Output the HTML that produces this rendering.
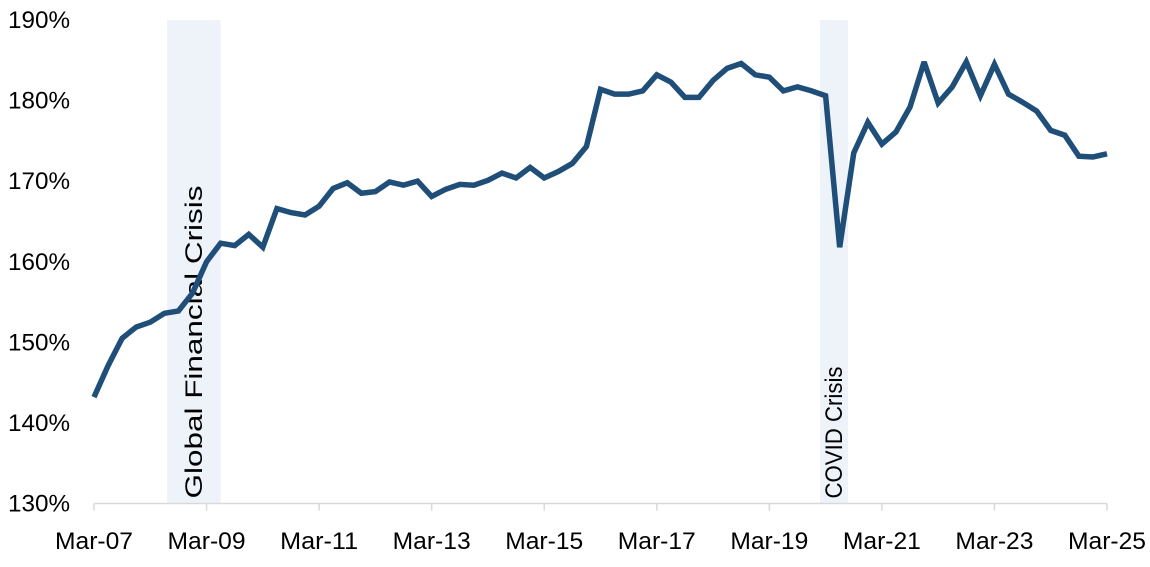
<!DOCTYPE html>
<html><head><meta charset="utf-8"><style>
html,body{margin:0;padding:0;background:#fff;}
svg{display:block;font-family:"Liberation Sans",Carlito,sans-serif;}
</style></head><body>
<svg id="chart" width="1150" height="567" viewBox="0 0 1150 567"></svg>
<script>
const values = [143.2,147.1,150.5,151.9,152.5,153.6,153.9,156.1,160.0,162.3,162.0,163.4,161.8,166.6,166.1,165.8,166.9,169.1,169.8,168.5,168.7,169.9,169.5,170.0,168.1,169.0,169.6,169.5,170.1,171.0,170.4,171.7,170.4,171.2,172.2,174.3,181.4,180.8,180.8,181.2,183.2,182.3,180.4,180.4,182.5,184.0,184.6,183.2,182.9,181.2,181.7,181.2,180.6,161.8,173.5,177.3,174.6,176.1,179.2,184.8,179.7,181.7,184.8,180.6,184.5,180.8,179.8,178.7,176.3,175.7,173.1,173.0,173.4];
const xTickLabels = ["Mar-07","Mar-09","Mar-11","Mar-13","Mar-15","Mar-17","Mar-19","Mar-21","Mar-23","Mar-25"];
const yTicks = [130,140,150,160,170,180,190];
const crises = [{name:"Global Financial Crisis",start:5.2,end:9.0,len:313},{name:"COVID Crisis",start:51.6,end:53.6,len:132}];

const NS="http://www.w3.org/2000/svg";
const svg=document.getElementById('chart');
const x0=94,x1=1107,yBot=503.5,yTop=20;
const xS=i=>x0+(x1-x0)*i/(values.length-1);
const yS=v=>yBot-(v-130)/(60)*(yBot-yTop);
function mk(t,a){const e=document.createElementNS(NS,t);for(const k in a)e.setAttribute(k,a[k]);svg.appendChild(e);return e;}

crises.forEach(c=>{
  const r=mk('rect',{x:xS(c.start),y:yTop,width:xS(c.end)-xS(c.start),height:yBot-yTop,fill:'#eef2f9'});
  
  
  const cx=(xS(c.start)+xS(c.end))/2+8;
  const t=mk('text',{x:0,y:0,transform:`translate(${cx},${yBot-5}) rotate(-90)`,'font-size':24,fill:'#000',textLength:c.len,lengthAdjust:'spacingAndGlyphs'});
  t.textContent=c.name;
  
  
});

const ax=mk('line',{x1:x0,x2:x1,y1:yBot,y2:yBot,stroke:'#d9d9d9','stroke-width':1.5});


xTickLabels.forEach((l,k)=>{
  const x=x0+(x1-x0)*k/(xTickLabels.length-1);
  const tk=mk('line',{x1:x,x2:x,y1:yBot,y2:yBot+7,stroke:'#d9d9d9','stroke-width':1.5});
  
  
  const t=mk('text',{x:x,y:549,'text-anchor':'middle','font-size':24,fill:'#000',textLength:78,lengthAdjust:'spacingAndGlyphs'});
  t.textContent=l;
  
  
});
yTicks.forEach(v=>{
  const t=mk('text',{x:70,y:yS(v)+8,'text-anchor':'end','font-size':24,fill:'#000',textLength:62,lengthAdjust:'spacingAndGlyphs'});
  t.textContent=v+'%';
  
  
});

const p=mk('polyline',{points:values.map((v,i)=>xS(i)+','+yS(v)).join(' '),fill:'none',stroke:'#1f4e79','stroke-width':5.5,'stroke-linejoin':'miter','stroke-miterlimit':3});


</script>
</body></html>
